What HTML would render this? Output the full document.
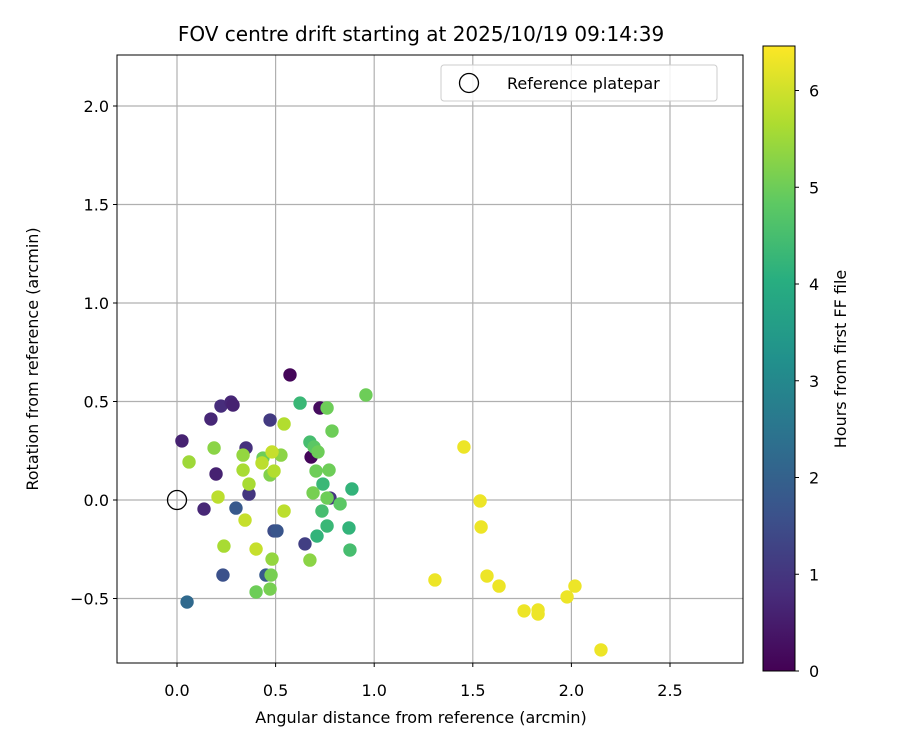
<!DOCTYPE html>
<html><head><meta charset="utf-8"><style>
body{margin:0;background:#fff;}
svg text{font-family:"DejaVu Sans","Liberation Sans",sans-serif;fill:#000;}
</style></head><body>
<svg id="chart" width="900" height="750" viewBox="0 0 900 750" xmlns="http://www.w3.org/2000/svg">
<defs>
<linearGradient id="vir" x1="0" y1="1" x2="0" y2="0">
<stop offset="0" stop-color="#440154"/><stop offset="0.125" stop-color="#472d7b"/><stop offset="0.25" stop-color="#3b528b"/><stop offset="0.375" stop-color="#2c728e"/><stop offset="0.5" stop-color="#21918c"/><stop offset="0.625" stop-color="#28ae80"/><stop offset="0.75" stop-color="#5ec962"/><stop offset="0.875" stop-color="#addc30"/><stop offset="1" stop-color="#fde725"/>
</linearGradient>
</defs>
<g id="grid"></g>
<g id="points"></g>
<g id="axes"></g>
</svg>
<script>
const xs=[0.573,0.025,0.172,0.223,0.274,0.284,0.198,0.137,0.35,0.472,0.725,0.68,0.492,0.299,0.233,0.451,0.507,0.649,0.051,0.365,0.776,0.624,0.761,0.958,0.786,0.674,0.695,0.715,0.705,0.771,0.74,0.887,0.69,0.761,0.827,0.735,0.761,0.71,0.872,0.877,0.674,0.061,0.188,0.335,0.543,0.527,0.436,0.472,0.208,0.365,0.431,0.482,0.492,0.345,0.543,0.238,0.401,0.482,0.477,0.401,0.472,0.335,1.455,1.537,1.542,1.572,1.633,1.308,1.76,1.831,1.831,1.978,2.018,2.15];
const ys=[0.635,0.30,0.411,0.477,0.497,0.482,0.132,-0.046,0.264,0.406,0.467,0.218,-0.157,-0.041,-0.381,-0.381,-0.157,-0.223,-0.518,0.03,0.01,0.492,0.467,0.533,0.35,0.294,0.269,0.244,0.147,0.152,0.081,0.056,0.036,0.01,-0.02,-0.056,-0.132,-0.183,-0.142,-0.254,-0.305,0.193,0.264,0.228,0.386,0.228,0.213,0.127,0.015,0.081,0.188,0.244,0.147,-0.102,-0.056,-0.234,-0.249,-0.3,-0.381,-0.467,-0.452,0.152,0.269,-0.005,-0.137,-0.386,-0.437,-0.406,-0.563,-0.558,-0.579,-0.492,-0.437,-0.761];
const hours=[0.1,0.6,0.7,0.8,0.7,0.6,0.6,0.7,0.9,1.1,0.2,0.1,1.5,1.8,1.6,1.8,1.7,1.2,2.2,1.0,1.0,4.3,5.0,5.0,5.0,4.5,4.8,5.0,5.0,5.0,4.3,4.2,5.1,5.0,4.8,4.5,4.3,4.2,4.2,4.5,5.3,5.5,5.3,5.4,5.7,5.3,5.0,5.2,5.8,5.6,5.8,5.9,5.7,5.9,5.8,5.6,5.9,5.4,5.1,5.0,5.1,5.6,6.3,6.3,6.3,6.3,6.3,6.3,6.3,6.3,6.3,6.3,6.3,6.3];
const xTicks=[0,0.5,1,1.5,2,2.5];
const yTicks=[-0.5,0,0.5,1,1.5,2];
const cTicks=[0,1,2,3,4,5,6];
const L=117,R=743,T=55,B=663;
const X=v=>177+v*197.2, Y=v=>500-v*197;
const CT=46,CB=671,CMAX=6.46,C=v=>CB-v/CMAX*(CB-CT);
const NS='http://www.w3.org/2000/svg';
function mk(p,tag,a){const e=document.createElementNS(NS,tag);for(const k in a)e.setAttribute(k,a[k]);p.appendChild(e);return e;}
const vs=[[0,[68,1,84]],[0.125,[71,45,123]],[0.25,[59,82,139]],[0.375,[44,114,142]],[0.5,[33,145,140]],[0.625,[40,174,128]],[0.75,[94,201,98]],[0.875,[173,220,48]],[1,[253,231,37]]];
function vir(t){t=Math.max(0,Math.min(1,t));for(let i=1;i<vs.length;i++){if(t<=vs[i][0]){const a=vs[i-1],b=vs[i],f=(t-a[0])/(b[0]-a[0]);return 'rgb('+a[1].map((c,j)=>Math.round(c+(b[1][j]-c)*f)).join(',')+')';}}return 'rgb(253,231,37)';}
const g=document.getElementById('grid'),p=document.getElementById('points'),ax=document.getElementById('axes');
xTicks.forEach(v=>{const l=mk(g,'line',{x1:X(v),x2:X(v),y1:T,y2:B,stroke:'#b0b0b0','stroke-width':1.2});});
yTicks.forEach(v=>{const l=mk(g,'line',{x1:L,x2:R,y1:Y(v),y2:Y(v),stroke:'#b0b0b0','stroke-width':1.2});});
xs.forEach((x,i)=>{const c=mk(p,'circle',{cx:X(x),cy:Y(ys[i]),r:6.7,fill:vir(hours[i]/CMAX)});});
const ref=mk(p,'circle',{cx:X(0),cy:Y(0),r:9.5,fill:'none',stroke:'#000','stroke-width':1.3});

const fr=mk(ax,'rect',{x:L,y:T,width:R-L,height:B-T,fill:'none',stroke:'#000','stroke-width':1});

xTicks.forEach(v=>{mk(ax,'line',{x1:X(v),x2:X(v),y1:B,y2:B+4,stroke:'#000'});const t=mk(ax,'text',{x:X(v),y:B+33,'text-anchor':'middle','font-size':16});t.textContent=v.toFixed(1);});
yTicks.forEach(v=>{mk(ax,'line',{x1:L-4,x2:L,y1:Y(v),y2:Y(v),stroke:'#000'});const t=mk(ax,'text',{x:L-8,y:Y(v)+6,'text-anchor':'end','font-size':16});t.textContent=(v<0?'\u2212'+(-v).toFixed(1):v.toFixed(1));});
const cb=mk(ax,'rect',{x:763,y:CT,width:32,height:CB-CT,fill:'url(#vir)',stroke:'#000','stroke-width':1});

cTicks.forEach(v=>{mk(ax,'line',{x1:795,x2:799,y1:C(v),y2:C(v),stroke:'#000'});const t=mk(ax,'text',{x:809,y:C(v)+6,'font-size':16});t.textContent=v;});
</script>
<svg width="900" height="750" style="position:absolute;left:0;top:0" xmlns="http://www.w3.org/2000/svg">
<text x="421" y="41" text-anchor="middle" font-size="20">FOV centre drift starting at 2025/10/19 09:14:39</text>
<text x="421" y="723" text-anchor="middle" font-size="16">Angular distance from reference (arcmin)</text>
<text x="0" y="0" transform="translate(38,359) rotate(-90)" text-anchor="middle" font-size="16">Rotation from reference (arcmin)</text>
<text x="0" y="0" transform="translate(846,359) rotate(-90)" text-anchor="middle" font-size="16">Hours from first FF file</text>
<g>
<rect x="441" y="65" width="276" height="36" rx="3" fill="#fff" fill-opacity="0.85" stroke="#ccc"/>
<circle cx="469" cy="83" r="9.5" fill="none" stroke="#000" stroke-width="1.3"/>
<text x="507" y="89" font-size="16">Reference platepar</text>
</g>
</svg>
</body></html>
